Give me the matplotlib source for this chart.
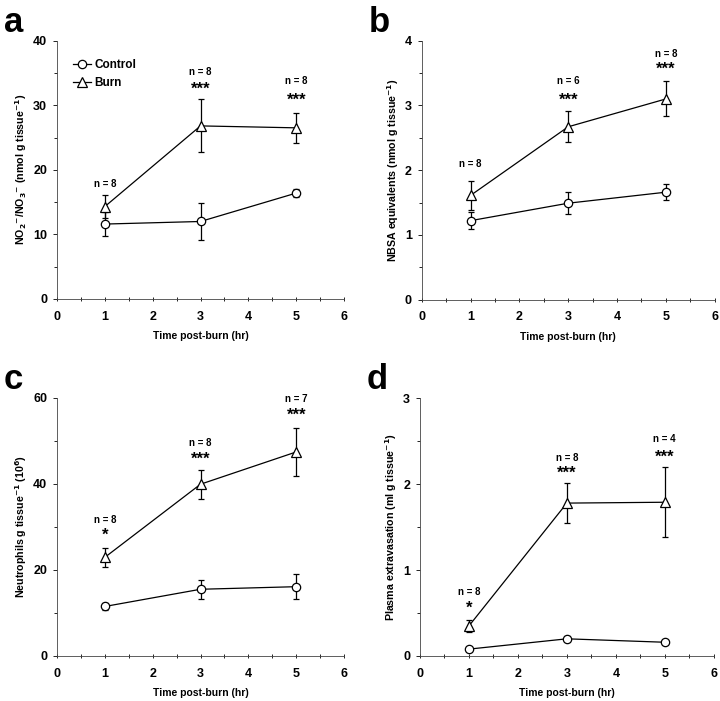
import numpy as np
import matplotlib
matplotlib.use("Agg")
from matplotlib import pyplot as plt
from matplotlib.ticker import MultipleLocator
from matplotlib.lines import Line2D

plt.rcParams['font.family'] = ['Liberation Sans', 'DejaVu Sans']
plt.rcParams['font.weight'] = 'bold'
plt.rcParams['mathtext.default'] = 'bf'

hours = [1, 3, 5]

# a: NO2/NO3
a_ctrl = [11.6, 12.0, 16.4]
a_ctrl_err = [1.8, 2.8, 0.6]
a_burn = [14.3, 26.8, 26.5]
a_burn_err = [1.8, 4.1, 2.3]
a_n = ["n = 8", "n = 8", "n = 8"]
a_sig = ["", "***", "***"]

# b: NBSA
b_ctrl = [1.22, 1.49, 1.66]
b_ctrl_err = [0.13, 0.17, 0.12]
b_burn = [1.61, 2.67, 3.10]
b_burn_err = [0.23, 0.24, 0.27]
b_n = ["n = 8", "n = 6", "n = 8"]
b_sig = ["", "***", "***"]

# c: neutrophils
c_ctrl = [11.5, 15.5, 16.1]
c_ctrl_err = [0.8, 2.2, 2.9]
c_burn = [22.9, 39.9, 47.4]
c_burn_err = [2.3, 3.4, 5.6]
c_n = ["n = 8", "n = 8", "n = 7"]
c_sig = ["*", "***", "***"]

# d: plasma extravasation
d_ctrl = [0.08, 0.20, 0.16]
d_ctrl_err = [0.01, 0.03, 0.02]
d_burn = [0.35, 1.78, 1.79]
d_burn_err = [0.07, 0.23, 0.41]
d_n = ["n = 8", "n = 8", "n = 4"]
d_sig = ["*", "***", "***"]

panels = [
    ("a", [0.079, 0.5735, 0.399, 0.3685], 40, 10, r"NO$_2$$^{-}$/NO$_3$$^{-}$ (nmol g tissue$^{-1}$)",
     a_ctrl, a_ctrl_err, a_burn, a_burn_err, a_n, a_sig,
     [17.8, 35.2, 33.7], [32.5, 30.7]),
    ("b", [0.5857, 0.5725, 0.407, 0.3695], 4, 1, r"NBSA equivalents (nmol g tissue$^{-1}$)",
     b_ctrl, b_ctrl_err, b_burn, b_burn_err, b_n, b_sig,
     [2.09, 3.37, 3.80], [3.08, 3.56]),
    ("c", [0.079, 0.0642, 0.399, 0.3685], 60, 20, r"Neutrophils g tissue$^{-1}$ (10$^6$)",
     c_ctrl, c_ctrl_err, c_burn, c_burn_err, c_n, c_sig,
     [31.6, 49.4, 59.6], [28.1, 45.7, 55.8]),
    ("d", [0.5833, 0.0642, 0.408, 0.3676], 3, 1, r"Plasma extravasation (ml g tissue$^{-1}$)",
     d_ctrl, d_ctrl_err, d_burn, d_burn_err, d_n, d_sig,
     [0.74, 2.30, 2.53], [0.55, 2.13, 2.31]),
]

fig = plt.figure(figsize=(7.2, 7.01), dpi=100)

for letter, rect, ymax, ystep, ylab, ctrl, ctrl_err, burn, burn_err, ns, sigs, ny, sy in panels:
    ax = fig.add_axes(rect)
    ax.errorbar(hours, ctrl, yerr=ctrl_err, color='black', lw=0.9, elinewidth=0.9,
                capsize=2.5, capthick=0.9, marker='o', ms=6, mfc='white', mec='black',
                mew=0.9, zorder=3)
    ax.errorbar(hours, burn, yerr=burn_err, color='black', lw=0.9, elinewidth=0.9,
                capsize=2.5, capthick=0.9, marker='^', ms=6.5, mfc='white', mec='black',
                mew=0.9, zorder=3)
    ax.set_xlim(0, 6)
    ax.set_ylim(0, ymax)
    ax.xaxis.set_major_locator(MultipleLocator(1))
    ax.xaxis.set_minor_locator(MultipleLocator(0.5))
    ax.yaxis.set_major_locator(MultipleLocator(ystep))
    ax.yaxis.set_minor_locator(MultipleLocator(ystep / 2))
    for s in ['top', 'right']:
        ax.spines[s].set_visible(False)
    for s in ['left', 'bottom']:
        ax.spines[s].set_linewidth(0.6)
        ax.spines[s].set_color('#444444')
    ax.tick_params(axis='y', which='major', direction='out', length=3, width=0.6, labelsize=9, pad=4)
    ax.tick_params(axis='y', which='minor', direction='out', length=2, width=0.6)
    ax.tick_params(axis='x', which='both', direction='inout', length=3, width=0.6, labelsize=9, pad=7)
    for lab in ax.get_xticklabels() + ax.get_yticklabels():
        lab.set_fontweight('bold')
    ax.set_xlabel("Time post-burn (hr)", fontsize=7.5, fontweight='bold', labelpad=6)
    ax.set_ylabel(ylab, fontsize=7.7, fontweight='bold', labelpad=3)

    # n labels and significance stars
    si = 0
    for i, x in enumerate(hours):
        ax.text(x, ny[i], ns[i], ha='center', va='center', fontsize=7, fontweight='bold')
        if sigs[i]:
            ax.text(x, sy[si], sigs[i], ha='center', va='center', fontsize=12, fontweight='bold')
            si += 1

    fig.text(rect[0] - 0.074, rect[1] + rect[3] + 0.05, letter, fontsize=25,
             fontweight='bold', ha='left', va='top')

    if letter == 'a':
        handles = [
            Line2D([], [], color='black', lw=0.9, marker='o', ms=6, mfc='white', mec='black', mew=0.9),
            Line2D([], [], color='black', lw=0.9, marker='^', ms=6.5, mfc='white', mec='black', mew=0.9),
        ]
        leg = ax.legend(handles, ['Control', 'Burn'], loc='upper left', bbox_to_anchor=(0.03, 0.955),
                        frameon=False, fontsize=8.5, handlelength=1.6, handletextpad=0.25,
                        labelspacing=0.45, borderaxespad=0.2)
        for t in leg.get_texts():
            t.set_fontweight('bold')

fig.savefig("out.png", dpi=100)
